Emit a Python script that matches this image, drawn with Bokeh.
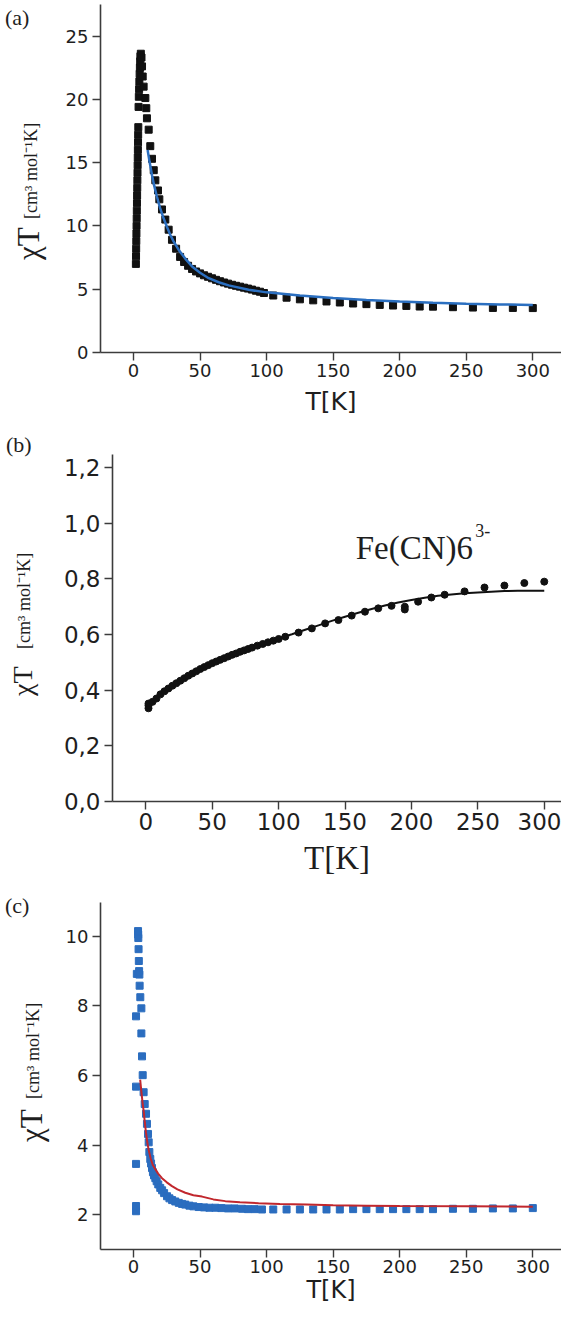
from bokeh.plotting import figure
from bokeh.models import Range1d, FixedTicker, Label, CustomJSTickFormatter, Div
from bokeh.layouts import column, row
from bokeh.embed import file_html
from bokeh.resources import INLINE

# ---------------- data ----------------
x_ticks = [0, 50, 100, 150, 200, 250, 300]

# panel (a)
a_T = [1.8, 1.9, 2.0, 2.1, 2.2, 2.3, 2.4, 2.5, 2.6, 2.7, 2.8, 2.9, 3.0, 3.1, 3.2, 3.3, 3.4, 3.5, 3.6, 3.8,
       4.0, 4.2, 4.4, 4.6, 4.8, 5.0, 5.2, 5.5,
       6.0, 6.4, 6.9, 7.6, 8.9, 9.6, 10.1, 11.4, 12.6, 13.9, 15.2, 16.4, 18.4, 19.4, 21.4, 23.9, 26.4, 28.9,
       32, 35, 38, 41, 44, 47, 50, 53, 56, 59, 62, 65, 68, 71, 74, 77, 80, 83, 86, 89, 92, 95, 98,
       105, 115, 125, 135, 145, 155, 165, 175, 185, 195, 205, 215, 225, 240, 255, 270, 285, 300]
a_chiT = [7.0, 7.6, 8.2, 8.8, 9.4, 10.0, 10.6, 11.2, 11.8, 12.4, 13.0, 13.6, 14.2, 14.8, 15.4, 16.0, 16.6, 17.2, 17.8, 19.4,
          20.2, 20.8, 21.4, 22.0, 22.5, 23.0, 23.4, 23.6,
          23.3, 22.6, 21.8, 21.0, 20.1, 19.3, 18.5, 17.6, 16.3, 15.3, 14.4, 13.6, 12.8, 12.1, 11.3, 10.5, 9.7, 8.9,
          8.2, 7.55, 7.15, 6.85, 6.6, 6.4, 6.25, 6.1, 5.98, 5.86, 5.74, 5.63, 5.53, 5.44, 5.35, 5.27, 5.2, 5.12, 5.05, 4.97, 4.88, 4.8, 4.7,
          4.5, 4.33, 4.2, 4.12, 4.03, 3.95, 3.87, 3.82, 3.76, 3.71, 3.68, 3.63, 3.62, 3.58, 3.55, 3.52, 3.52, 3.51]
a_fit_T = [10.6, 12, 13.9, 15.5, 17.6, 20, 22.6, 25, 27.6, 30, 34, 39, 44, 50, 56.5, 64, 71.5, 86.5, 100,
           125, 150, 175, 200, 225, 250, 275, 300]
a_fit = [16.0, 15.1, 14.0, 13.2, 12.3, 11.4, 10.6, 9.95, 9.3, 8.8, 8.1, 7.4, 6.8, 6.3, 5.87, 5.55, 5.3, 4.95, 4.75,
         4.5, 4.3, 4.15, 4.03, 3.93, 3.86, 3.8, 3.75]
a_y_ticks = [0, 5, 10, 15, 20, 25]

# panel (b)
b_T = [2, 2, 2, 5, 8, 11, 14, 17, 20, 23, 26, 29, 32, 35, 38, 41, 44, 47, 50, 53, 56, 59, 62, 65, 68, 71, 74, 77,
       80, 84, 88, 92, 96, 100, 105, 115, 125, 135, 145, 155, 165, 175, 185, 195, 195, 205, 215, 225, 240, 255,
       270, 285, 300]
b_chiT = [0.335, 0.345, 0.352, 0.358, 0.37, 0.385, 0.396, 0.406, 0.416, 0.425, 0.434, 0.443, 0.452, 0.46, 0.468,
          0.476, 0.483, 0.49, 0.497, 0.503, 0.509, 0.515, 0.521, 0.527, 0.532, 0.538, 0.543, 0.548, 0.553, 0.56,
          0.566, 0.572, 0.578, 0.584, 0.592, 0.607, 0.622, 0.64, 0.652, 0.668, 0.682, 0.694, 0.703, 0.70, 0.69,
          0.718, 0.733, 0.743, 0.755, 0.769, 0.776, 0.785, 0.79]
b_fit_T = [2, 10, 20, 30, 40, 50, 60, 70, 80, 90, 100, 110, 120, 130, 140, 150, 160, 170, 180, 190, 200, 210, 220,
           230, 240, 250, 260, 270, 280, 290, 300]
b_fit = [0.352, 0.382, 0.418, 0.449, 0.476, 0.5, 0.52, 0.538, 0.555, 0.57, 0.586, 0.601, 0.617, 0.633, 0.649,
         0.664, 0.678, 0.692, 0.704, 0.715, 0.724, 0.732, 0.739, 0.744, 0.748, 0.751, 0.754, 0.756, 0.757, 0.757, 0.757]
b_y_ticks = [0.0, 0.2, 0.4, 0.6, 0.8, 1.0, 1.2]
b_label = "Fe(CN)6"
b_label_sup = "3-"

# panel (c)
c_T = [1.9, 1.9, 1.9, 1.9, 1.9, 2.5,
       3.4, 3.5, 3.6, 3.8, 4.0, 4.2, 4.4, 4.6, 5.1, 5.9, 5.9, 6.4, 6.9, 7.6, 8.4, 9.4, 10.1, 10.9, 11.4, 11.9,
       12.6, 13.2, 13.9, 14.6, 15.4, 16.4, 17.4, 18.6, 20.1, 21.5, 23, 25.2, 27, 29, 31.4, 34, 36.5, 38.9, 42, 45,
       49, 53, 57, 61.5, 66, 71, 76, 81.5, 86, 91, 96.5,
       105, 115, 125, 135, 145, 155, 165, 175, 185, 195, 205, 215, 225, 240, 255, 270, 285, 300]
c_chiT = [2.1, 2.25, 3.46, 5.68, 7.7, 8.92,
          10.15, 10.05, 9.95, 9.63, 9.29, 9.0, 8.9, 8.58, 8.25, 7.93, 7.21, 6.55, 6.01, 5.52, 5.18, 4.9, 4.61, 4.32, 4.08, 3.8,
          3.6, 3.47, 3.34, 3.22, 3.13, 3.05, 2.96, 2.87, 2.77, 2.7, 2.62, 2.53, 2.47, 2.42, 2.38, 2.34, 2.31, 2.29, 2.26, 2.24,
          2.22, 2.21, 2.2, 2.2, 2.19, 2.18, 2.18, 2.17, 2.16, 2.16, 2.15,
          2.15, 2.15, 2.15, 2.15, 2.15, 2.15, 2.16, 2.16, 2.16, 2.16, 2.16, 2.16, 2.16, 2.17, 2.17, 2.18, 2.18, 2.19]
c_fit_T = [5, 6, 7, 7.6, 8.5, 9.4, 10.5, 11.4, 13, 14.5, 16.4, 18.5, 21.4, 25, 28.9, 33, 38.9, 45, 51.5, 60,
           69, 80, 94, 110, 130, 150, 175, 200, 250, 300]
c_fit = [5.88, 5.5, 5.15, 4.99, 4.65, 4.35, 4.05, 3.86, 3.6, 3.43, 3.31, 3.18, 3.05, 2.93, 2.82, 2.73, 2.63, 2.56,
         2.52, 2.44, 2.39, 2.36, 2.33, 2.31, 2.29, 2.27, 2.26, 2.25, 2.24, 2.23]
c_y_ticks = [2, 4, 6, 8, 10]

ylab_main = "\u03c7T"
ylab_unit = "[cm\u00b3 mol\u207b\u00b9K]"
xlab = "T[K]"
panel_tags = ["(a)", "(b)", "(c)"]

AXIS_COL = "#3c3c3c"
TXT_COL = "#1e1e1e"
SANS = "DejaVu Sans"
SERIF = "Liberation Serif"
LW = 60            # width of the left strip that carries the rotated y titles
MW = 561 - LW      # width of each plotting figure


def htext(text, left_x, base_y, size, top_ref):
    top = base_y - top_ref - 0.8375 * size
    return (f'<div style="position:absolute;left:{left_x - 8:.1f}px;top:{top:.1f}px;'
            f"font-family:'{SERIF}';font-size:{size}px;line-height:1;white-space:nowrap;"
            f'color:{TXT_COL};">{text}</div>')


def vtext(text, base_x, start_y, size, top_ref):
    bx = base_x - 8 + 0.1625 * size
    by = start_y - top_ref
    return (f'<div style="position:absolute;left:{bx:.1f}px;top:{by - size:.1f}px;'
            f"font-family:'{SERIF}';font-size:{size}px;line-height:1;white-space:nowrap;"
            f'color:{TXT_COL};transform-origin:0 100%;transform:rotate(-90deg);">{text}</div>')


def title_strip(page_top, height, tag, tag_xy, base_x, main_y, main_size, unit_x, unit_y, unit_size):
    html = (f'<div style="position:relative;width:{LW}px;height:{height}px;margin:0;padding:0;">'
            + htext(tag, tag_xy[0], tag_xy[1], 22, page_top)
            + vtext(ylab_main, base_x, main_y, main_size, page_top)
            + vtext(ylab_unit, unit_x, unit_y, unit_size, page_top)
            + '</div>')
    return Div(text=html, width=LW, height=height, margin=(0, 0, 0, 0))


def make_fig(height, bt, bb, bl, xr, yr):
    p = figure(width=MW, height=height, output_backend="svg", toolbar_location=None,
               x_range=Range1d(*xr), y_range=Range1d(*yr),
               min_border_top=bt, min_border_bottom=bb, min_border_left=bl, min_border_right=0)
    p.grid.visible = False
    p.outline_line_color = None
    for ax in (p.xaxis[0], p.yaxis[0]):
        ax.axis_line_color = AXIS_COL
        ax.axis_line_width = 1.6
        ax.major_tick_line_color = AXIS_COL
        ax.major_tick_line_width = 1.4
        ax.major_tick_in = 0
        ax.major_tick_out = 8
        ax.minor_tick_line_color = None
        ax.major_label_text_color = TXT_COL
        ax.major_label_text_font = SANS
        ax.axis_label_text_color = TXT_COL
        ax.axis_label_text_font_style = "normal"
    p.xaxis.ticker = FixedTicker(ticks=x_ticks)
    p.xaxis.axis_label = xlab
    return p


# ---------------- panel (a) ----------------
a_top, a_h = 8, 432
a_fw = MW - 40
pa = make_fig(a_h, 4, 80, 40, (-24.8, -24.8 + a_fw / 1.331), (0, 348 / 12.66))
pa.yaxis.ticker = FixedTicker(ticks=a_y_ticks)
pa.xaxis.major_label_text_font_size = "18px"
pa.yaxis.major_label_text_font_size = "18px"
pa.xaxis.major_label_standoff = 3
pa.yaxis.major_label_standoff = 4
pa.xaxis.axis_label_text_font = SANS
pa.xaxis.axis_label_text_font_size = "25px"
pa.xaxis.axis_label_standoff = 7
pa.scatter(a_T, a_chiT, marker="square", size=7, color="#111111")
pa.line(a_fit_T, a_fit, line_color="#2b6fc0", line_width=2.5)
la = title_strip(a_top, a_h, panel_tags[0], (13, 33), 47, 268, 31, 45, 227, 18)

# ---------------- panel (b) ----------------
b_top, b_h = 440, 458
b_fw = MW - 50
pb = make_fig(b_h, 22, 89, 50, (-25.1, -25.1 + b_fw / 1.334), (0, 347 / 278.3))
pb.yaxis.ticker = FixedTicker(ticks=b_y_ticks)
pb.yaxis.formatter = CustomJSTickFormatter(code="return tick.toFixed(1).replace('.', ',');")
pb.xaxis.major_label_text_font_size = "23px"
pb.yaxis.major_label_text_font_size = "23px"
pb.xaxis.major_label_standoff = 3
pb.yaxis.major_label_standoff = 4
pb.xaxis.axis_label_text_font = SERIF
pb.xaxis.axis_label_text_font_size = "33px"
pb.xaxis.axis_label_standoff = 7
pb.line(b_fit_T, b_fit, line_color="#111111", line_width=2)
pb.scatter(b_T, b_chiT, marker="circle", size=7, color="#111111")
pb.add_layout(Label(x=158, y=0.91, text=b_label, text_font=SERIF, text_font_size="33px",
                    text_color=TXT_COL, text_align="left", text_baseline="alphabetic"))
pb.add_layout(Label(x=248, y=0.972, text=b_label_sup, text_font=SERIF, text_font_size="18px",
                    text_color=TXT_COL, text_align="left", text_baseline="alphabetic"))
lb = title_strip(b_top, b_h, panel_tags[1], (14, 460), 40, 704, 28, 38, 657, 18)

# ---------------- panel (c) ----------------
c_top, c_h = 898, 420
c_fw = MW - 40
pc = make_fig(c_h, 12, 61, 40, (-24.8, -24.8 + c_fw / 1.331), (1, 1 + 347 / 34.8))
pc.yaxis.ticker = FixedTicker(ticks=c_y_ticks)
pc.xaxis.major_label_text_font_size = "18px"
pc.yaxis.major_label_text_font_size = "18px"
pc.xaxis.major_label_standoff = 2
pc.yaxis.major_label_standoff = 4
pc.xaxis.axis_label_text_font = SANS
pc.xaxis.axis_label_text_font_size = "24px"
pc.xaxis.axis_label_standoff = 0
pc.scatter(c_T, c_chiT, marker="square", size=7, color="#2b6dbf")
pc.line(c_fit_T, c_fit, line_color="#c1272d", line_width=2)
lc = title_strip(c_top, c_h, panel_tags[2], (13, 921), 50, 1150, 31, 47, 1107, 18)

layout = column(row(la, pa, spacing=0), row(lb, pb, spacing=0), row(lc, pc, spacing=0), spacing=0)
open("out.html", "w").write(file_html(layout, INLINE))
